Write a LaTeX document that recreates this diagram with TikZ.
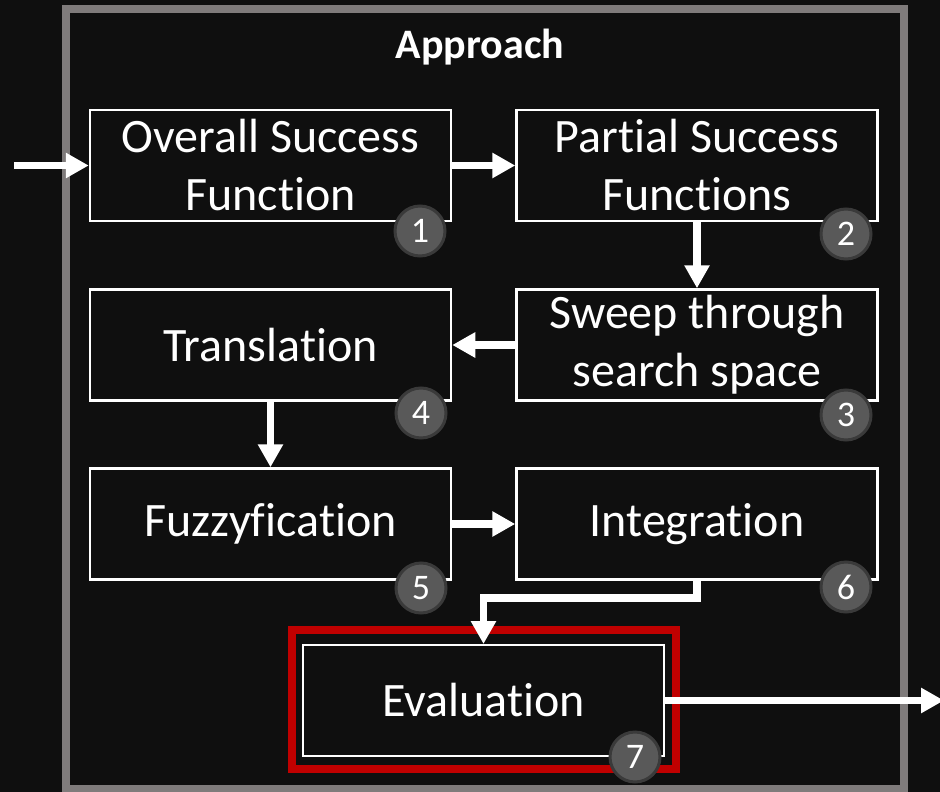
\documentclass[tikz,border=0pt]{standalone}
\usepackage{fontspec}
\setmainfont{Carlito}[Ligatures=NoCommon]
\usetikzlibrary{arrows.meta}
\definecolor{bgc}{HTML}{0F0F0F}
\definecolor{framec}{HTML}{7F7B7B}
\definecolor{redc}{HTML}{C00000}
\definecolor{numfill}{HTML}{595959}
\definecolor{numdraw}{HTML}{3A3A3A}
\tikzset{
  stepbox/.style={draw=white, line width=2.5pt, inner sep=0pt, minimum width=361pt, minimum height=111pt, text=white, align=center, font=\fontsize{48}{58}\selectfont},
  numc/.style={circle, fill=numfill, draw=numdraw, line width=3pt, minimum size=50pt, inner sep=0pt, text=white, font=\fontsize{36}{36}\selectfont},
  arr/.style={draw=white, line width=7.5pt, -{Triangle[length=23pt,width=24pt]}},
}
\begin{document}
\begin{tikzpicture}[x=1pt,y=-1pt]
\fill[bgc] (0,0) rectangle (940,792);
\useasboundingbox (0,0) rectangle (940,792);
\node[draw=framec, line width=8pt, minimum width=838pt, minimum height=780pt, inner sep=0pt] (frame) at (485,399) {};
\node[text=white, font=\bfseries\fontsize{42}{42}\selectfont] (title) at (480,47) {Approach};
\node[stepbox] (b1) at (270.5,165.5) {Overall Success\\Function};
\node[stepbox] (b2) at (697,165.5) {Partial Success\\Functions};
\node[stepbox] (b3) at (697,345) {Sweep through\\search space};
\node[stepbox] (b4) at (270.5,345) {Translation};
\node[stepbox] (b5) at (270.5,524) {Fuzzyfication};
\node[stepbox] (b6) at (697,524) {Integration};
\node[draw=redc, line width=8pt, minimum width=384pt, minimum height=139pt, inner sep=0pt] (r7) at (484,699.5) {};
\node[stepbox, line width=2pt] (b7) at (483.5,700.5) {Evaluation};
\coordinate (in) at (14,165.5);
\coordinate (k) at (0,598);
\coordinate (out) at (944,700.5);
\draw[arr] (in) -- (b1.west);
\draw[arr] (b1.east) -- (b2.west);
\draw[arr] (b2.south) -- (b3.north);
\draw[arr] (b3.west) -- (b4.east);
\draw[arr] (b4.south) -- (b5.north);
\draw[arr] (b5.east) -- (b6.west);
\draw[arr] (b6.south) -- (b6.south |- k) -| (b7.north);
\draw[arr] (b7.east) -- (out);
\node[numc] (c1) at (420,231) {1};
\node[numc] (c2) at (846,234) {2};
\node[numc] (c3) at (846,415) {3};
\node[numc] (c4) at (421,413) {4};
\node[numc] (c5) at (421,588) {5};
\node[numc] (c6) at (846,587) {6};
\node[numc] (c7) at (635,757) {7};
\end{tikzpicture}
\end{document}
